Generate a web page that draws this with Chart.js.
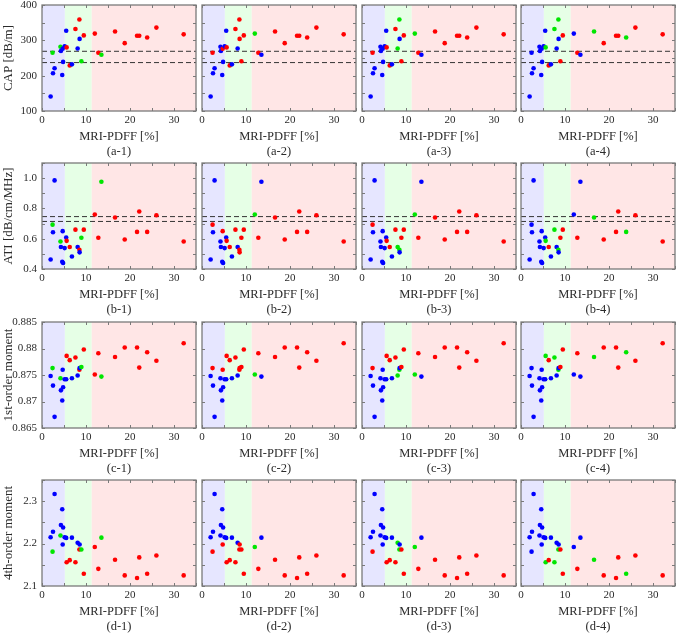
<!DOCTYPE html>
<html>
<head>
<meta charset="utf-8">
<script src="https://cdn.jsdelivr.net/npm/chart.js@4.4.1/dist/chart.umd.min.js"></script>
<style>
  html, body { margin: 0; padding: 0; background: #fff; overflow: hidden; }
  #figure { position: relative; width: 676px; height: 634px; }
  #figure canvas { position: absolute; }
</style>
</head>
<body>
<div id="figure"></div>
<script>
// MRI-PDFF [%] of each subject (same for every panel)
const pdff = [1.96, 2.4, 2.5, 2.86, 4.2, 4.3, 4.6, 4.7, 4.8, 5.15,
              5.5, 5.6, 6.3, 6.8, 7.6, 8.1, 8.5, 8.55, 8.95, 9.5,
              12.0, 12.8, 13.5, 16.6, 18.8, 21.6, 22.1, 23.9, 26.0, 32.2];

// Measured parameters (one per row)
const capValues = [141, 265, 207, 221, 282, 270, 202, 276, 239, 283,
                   327, 280, 229, 232, 332, 277, 359, 304, 241, 314,
                   319, 265, 259, 325, 292, 313, 313, 308, 336, 317];
const atiValues = [0.463, 0.693, 0.643, 0.985, 0.582, 0.545, 0.448, 0.650, 0.440, 0.538,
                   0.608, 0.586, 0.545, 0.483, 0.660, 0.545, 0.527, 0.510, 0.606, 0.660,
                   0.760, 0.606, 0.976, 0.740, 0.595, 0.645, 0.780, 0.645, 0.755, 0.582];
const moment1Values = [0.8748, 0.8763, 0.8730, 0.8671, 0.8744, 0.8721, 0.8702, 0.8760, 0.8727, 0.8742,
                       0.8742, 0.8786, 0.8778, 0.8744, 0.8783, 0.8749, 0.8760, 0.8763, 0.8765, 0.8798,
                       0.8751, 0.8791, 0.8747, 0.8784, 0.8802, 0.8802, 0.8764, 0.8793, 0.8777, 0.8810];
const moment4Values = [2.215, 2.181, 2.228, 2.317, 2.219, 2.244, 2.281, 2.198, 2.238, 2.215,
                       2.2135, 2.156, 2.161, 2.214, 2.156, 2.202, 2.186, 2.198, 2.186, 2.129,
                       2.192, 2.1405, 2.214, 2.162, 2.125, 2.119, 2.1675, 2.129, 2.172, 2.125];

// Predicted grade per column (B = blue, G = green, R = red)
const classes1 = ['B','G','B','B','G','B','B','B','B','B','B','R','R','B','R','B','R','B','G','R',
                  'R','R','G','R','R','R','R','R','R','R'];
const classes2 = ['B','R','B','B','B','B','B','R','B','B','B','R','R','B','R','B','R','R','R','R',
                  'G','R','B','R','R','R','R','R','R','R'];
const classes3 = ['B','R','B','B','B','B','B','B','B','B','B','R','R','B','R','G','G','B','R','R',
                  'G','R','B','R','R','R','R','R','R','R'];
const classes4 = ['B','B','B','B','B','B','B','B','B','B','B','G','R','B','G','B','G','B','R','R',
                  'B','R','B','G','R','R','R','G','R','R'];

// Reference cut-offs
const gradeCutoffs = [5.2, 11.3];      // MRI-PDFF grade boundaries
const capCutoffs = [269, 237];
const atiCutoffs = [0.746, 0.714];

// Tick labels
const xTickLabels = [0, 10, 20, 30];
const capTickLabels = ['100', '200', '300', '400'];
const atiTickLabels = ['0.4', '0.6', '0.8', '1.0'];
const moment1TickLabels = ['0.865', '0.87', '0.875', '0.88', '0.885'];
const moment4TickLabels = ['2.1', '2.2', '2.3'];

const xMin = 0, xMax = 35;
const FONT = "'Liberation Serif', 'Times New Roman', serif";
const TEXT_COLOR = '#2b2b2b';
const dotColors = { B: '#0000ff', G: '#00e600', R: '#ff0000' };
const bandColors = ['#e6e6ff', '#e6ffe6', '#ffe6e6'];

const rows = [
    { tag: 'a', values: capValues, min: 100, max: 400, step: 50, labels: capTickLabels, title: 'CAP [dB/m]', cutoffs: capCutoffs },
    { tag: 'b', values: atiValues, min: 0.4, max: 1.1, step: 0.1, labels: atiTickLabels, title: 'ATI [dB/cm/MHz]', cutoffs: atiCutoffs },
    { tag: 'c', values: moment1Values, min: 0.865, max: 0.885, step: 0.005, labels: moment1TickLabels, title: '1st-order moment', cutoffs: [] },
    { tag: 'd', values: moment4Values, min: 2.1, max: 2.35, step: 0.05, labels: moment4TickLabels, title: '4th-order moment', cutoffs: [] }
];
const methods = [classes1, classes2, classes3, classes4];

// Panel layout (pixels)
const plotLefts = [42, 202, 362, 521];
const plotTops = [5, 163, 322, 480];
const plotW = 154, plotH = 106;
const padTop = 6, padRight = 4, xAxisH = 50;

/** Shaded grade bands, box and inward MATLAB-like ticks */
const frameAndBands = {
    id: 'frameAndBands',
    beforeDatasetsDraw(chart) {
        const { ctx, chartArea: a, scales: { x } } = chart;
        const edges = [xMin, ...gradeCutoffs, xMax];
        ctx.save();
        for (let i = 0; i < bandColors.length; i++) {
            const x0 = x.getPixelForValue(edges[i]);
            const x1 = x.getPixelForValue(edges[i + 1]);
            ctx.fillStyle = bandColors[i];
            ctx.fillRect(x0, a.top, x1 - x0, a.bottom - a.top);
        }
        ctx.restore();
    },
    afterDraw(chart) {
        const { ctx, chartArea: a, scales: { x, y } } = chart;
        const len = 3;
        ctx.save();
        ctx.strokeStyle = '#7a7a7a';
        ctx.lineWidth = 1;
        ctx.beginPath();
        for (const t of x.ticks) {
            const px = Math.round(x.getPixelForValue(t.value)) + 0.5;
            ctx.moveTo(px, a.bottom); ctx.lineTo(px, a.bottom - len);
            ctx.moveTo(px, a.top); ctx.lineTo(px, a.top + len);
        }
        for (const t of y.ticks) {
            const py = Math.round(y.getPixelForValue(t.value)) + 0.5;
            ctx.moveTo(a.left, py); ctx.lineTo(a.left + len, py);
            ctx.moveTo(a.right, py); ctx.lineTo(a.right - len, py);
        }
        ctx.stroke();
        ctx.lineWidth = 1.3;
        ctx.strokeRect(a.left, a.top, a.right - a.left, a.bottom - a.top);
        ctx.restore();
    }
};

function labelFor(list, value) {
    const hit = list.find(l => Math.abs(Number(l) - value) < 1e-6);
    return hit === undefined ? '' : String(hit);
}

/** Pin a scale to a fixed size so every plot box lands at the same place */
function pinScale(s, size, horizontal) {
    if (horizontal) s.height = size; else s.width = size;
    s.paddingTop = 0;
    s.paddingBottom = 0;
    s.paddingLeft = 0;
    s.paddingRight = 0;
}

const domFigure = document.getElementById('figure');

rows.forEach((row, r) => {
    methods.forEach((classes, c) => {
        const yAxisW = c === 0 ? 42 : 4;
        const canvas = document.createElement('canvas');
        canvas.width = yAxisW + plotW + padRight;
        canvas.height = padTop + plotH + xAxisH;
        canvas.style.left = (plotLefts[c] - yAxisW) + 'px';
        canvas.style.top = (plotTops[r] - padTop) + 'px';
        domFigure.appendChild(canvas);

        const datasets = [{
            type: 'scatter',
            data: pdff.map((v, i) => ({ x: v, y: row.values[i] })),
            pointBackgroundColor: classes.map(k => dotColors[k]),
            pointBorderWidth: 0,
            pointRadius: 2.3,
            order: 0
        }];
        for (const cut of row.cutoffs) {
            datasets.push({
                type: 'line',
                data: [{ x: xMin, y: cut }, { x: xMax, y: cut }],
                borderColor: '#333',
                borderWidth: 1,
                borderDash: [5, 3],
                pointRadius: 0,
                order: 1
            });
        }

        new Chart(canvas.getContext('2d'), {
            type: 'scatter',
            data: { datasets },
            plugins: [frameAndBands],
            options: {
                responsive: false,
                animation: false,
                layout: { padding: { top: padTop, right: padRight, left: 0, bottom: 0 } },
                plugins: { legend: { display: false }, tooltip: { enabled: false } },
                scales: {
                    x: {
                        type: 'linear', min: xMin, max: xMax,
                        grid: { display: false, drawTicks: false },
                        border: { display: false },
                        ticks: {
                            stepSize: 5, autoSkip: false, maxRotation: 0, padding: 3,
                            color: TEXT_COLOR, font: { family: FONT, size: 11 },
                            callback: v => labelFor(xTickLabels, v)
                        },
                        title: {
                            display: true,
                            text: ['MRI-PDFF [%]', `(${row.tag}-${c + 1})`],
                            color: TEXT_COLOR,
                            font: { family: FONT, size: 12.5, lineHeight: 1.2 },
                            padding: { top: 0, bottom: 1.5 }
                        },
                        afterFit: s => pinScale(s, xAxisH, true)
                    },
                    y: {
                        type: 'linear', min: row.min, max: row.max,
                        grid: { display: false, drawTicks: false },
                        border: { display: false },
                        ticks: {
                            stepSize: row.step, autoSkip: false, padding: 5,
                            display: c === 0,
                            color: TEXT_COLOR, font: { family: FONT, size: 11 },
                            callback: v => labelFor(row.labels, v)
                        },
                        title: {
                            display: c === 0,
                            text: row.title,
                            color: TEXT_COLOR,
                            font: { family: FONT, size: 13 },
                            padding: { top: 1, bottom: 0 }
                        },
                        afterFit: s => pinScale(s, yAxisW, false)
                    }
                }
            }
        });
    });
});
</script>
</body>
</html>
